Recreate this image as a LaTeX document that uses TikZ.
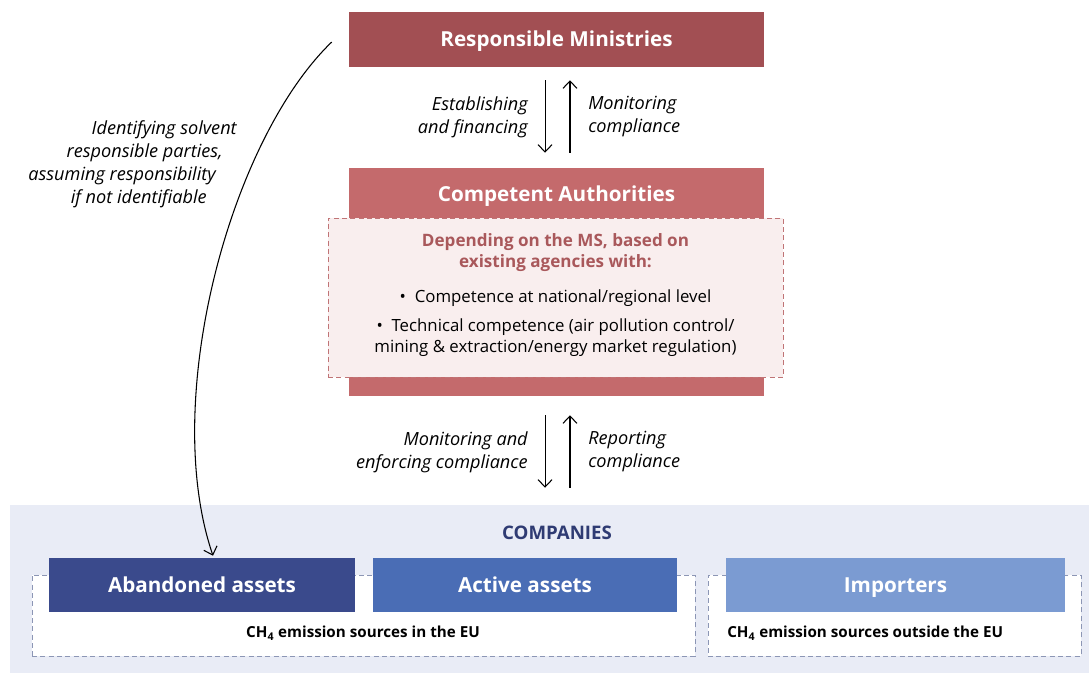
\documentclass[tikz,border=0pt]{standalone}
\usepackage{fontspec}
\setmainfont{Open Sans}
\usetikzlibrary{arrows.meta}
\definecolor{rmred}{HTML}{A24F53}
\definecolor{cared}{HTML}{C46A6C}
\definecolor{msfill}{HTML}{F9EEEE}
\definecolor{msline}{HTML}{C07476}
\definecolor{mstext}{HTML}{A9585B}
\definecolor{compbg}{HTML}{E9ECF6}
\definecolor{navy}{HTML}{2F3B73}
\definecolor{abandblue}{HTML}{3A4A8C}
\definecolor{activeblue}{HTML}{4A6DB5}
\definecolor{importblue}{HTML}{7B9BD2}
\definecolor{dashgrey}{HTML}{8C96B5}
\tikzset{
redbox/.style={fill=#1,draw=none,minimum width=311.25pt},
boxtitle/.style={text=white,font=\bfseries\fontsize{15.5}{18}\selectfont,text height=11pt,text depth=0pt},
lbl/.style={font=\itshape\fontsize{13.6}{17.25}\selectfont,inner sep=0pt},
arr/.style={-{Straight Barb[length=5.5pt,width=10.5pt]},line width=0.8pt},
assetbox/.style={fill=#1,draw=none,minimum height=40.5pt,boxtitle},
dashbox/.style={draw=dashgrey,dash pattern=on 3.75pt off 2.5pt,fill=white,minimum height=60.75pt},
srcnote/.style={font=\bfseries\fontsize{11.4}{13}\selectfont,inner sep=0pt}
}

\begin{document}
\begin{tikzpicture}[x=0.75pt,y=-0.75pt]
\useasboundingbox (0,0) rectangle (1089,673);
% ministries and authorities
\node[redbox=rmred,minimum height=41.25pt,boxtitle] (rm) at (556.5,39.5) {Responsible Ministries};
\node[redbox=cared,minimum height=171pt] (ca) at (556.5,282) {};
\node[boxtitle] (catitle) at (556.5,194) {Competent Authorities};
\node[draw=msline,dash pattern=on 3.75pt off 2.5pt,fill=msfill,minimum width=341.25pt,minimum height=119.25pt] (ms) at (555.5,297.5) {};
\node[text=mstext,font=\bfseries\fontsize{12.8}{15.75}\selectfont,align=center] (mshead) at (555.5,252.5) {Depending on the MS, based on\\existing agencies with:};
\node[font=\fontsize{12.6}{15.75}\selectfont,align=center] (mslist) at (555.5,323) {\textbullet\ \ Competence at national/regional level\\[6pt]\textbullet\ \ Technical competence (air pollution control/\\mining \& extraction/energy market regulation)};
% companies
\node[fill=compbg,minimum width=809.25pt,minimum height=126pt] (comp) at (549.5,589) {};
\node[text=navy,font=\bfseries\fontsize{14}{16}\selectfont] (comptitle) at (557,533) {COMPANIES};
\node[dashbox,minimum width=497.25pt] (eu) at (363.5,615.5) {};
\node[dashbox,minimum width=279.75pt] (noneu) at (894.5,615.5) {};
\node[assetbox=abandblue,minimum width=229.5pt] (aband) at (202,585) {Abandoned assets};
\node[assetbox=activeblue,minimum width=228pt] (active) at (525,585) {Active assets};
\node[assetbox=importblue,minimum width=254.25pt] (import) at (895.5,585) {Importers};
\node[srcnote] (eunote) at (363,633) {CH\textsubscript{4} emission sources in the EU};
\node[srcnote,anchor=west] (noneunote) at (727,633) {CH\textsubscript{4} emission sources outside the EU};
% arrows between levels
\draw[arr,shorten <=9.75pt,shorten >=11.25pt] ([xshift=-8.6pt]rm.south) -- ([xshift=-8.6pt]ca.north);
\draw[arr,shorten <=11.25pt,shorten >=9.75pt] ([xshift=10.1pt]ca.north) -- ([xshift=10.1pt]rm.south);
\draw[arr,shorten <=14.25pt,shorten >=12.75pt] ([xshift=-8.6pt]ca.south) -- ([xshift=-8.6pt]ca.south |- comp.north);
\draw[arr,shorten <=12.75pt,shorten >=14.25pt] ([xshift=10.1pt]ca.south |- comp.north) -- ([xshift=10.1pt]ca.south);
\node[lbl,align=right,anchor=east] (estab) at (528,117) {Establishing\\and financing};
\node[lbl,align=left,anchor=west] (monit) at (588,117) {Monitoring\\compliance};
\node[lbl,align=right,anchor=east] (enforce) at (528,452) {Monitoring and\\enforcing compliance};
\node[lbl,align=left,anchor=west] (report) at (588,452) {Reporting\\compliance};
% curved arrow to abandoned assets
\draw[arr] ([xshift=-12.75pt,yshift=-1.9pt]rm.west) .. controls (230,140) and (160,400) .. ([xshift=8.25pt,yshift=1.5pt]aband.north);
\node[lbl,align=right,anchor=east] (ident) at (237,164) {Identifying solvent\\responsible parties,\kern10.5pt\\assuming responsibility\kern15.75pt\\if not identifiable\kern22.5pt};
\end{tikzpicture}
\end{document}
